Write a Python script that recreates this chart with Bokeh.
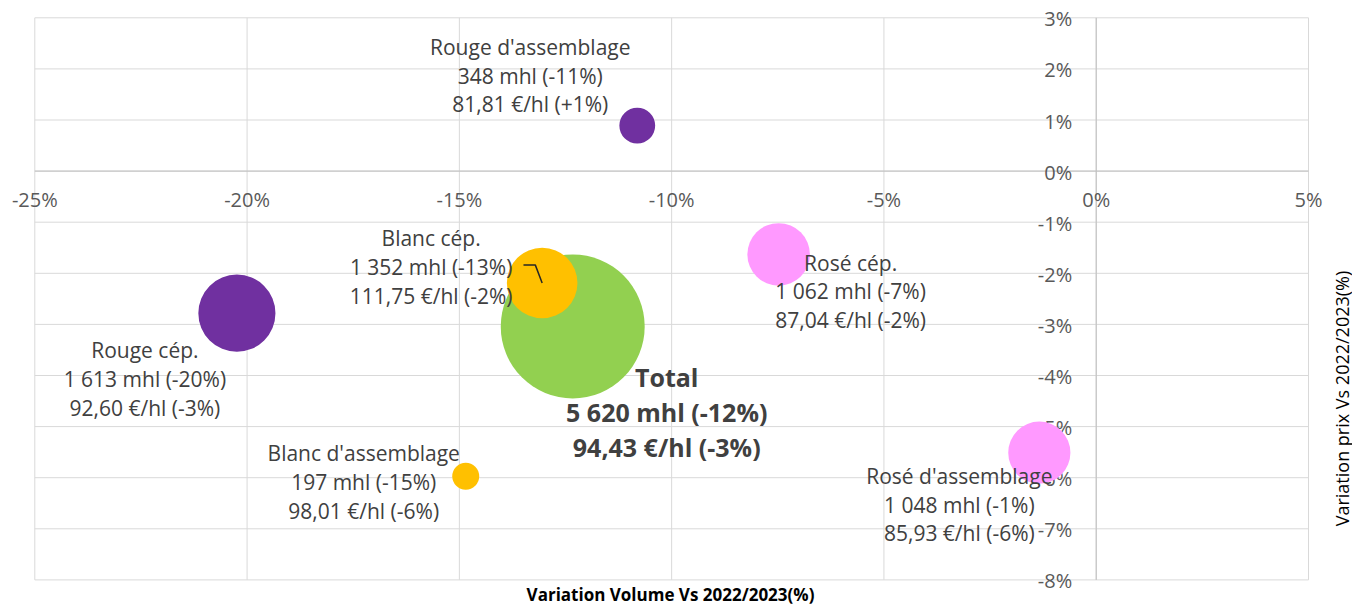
import math
from bokeh.plotting import figure
from bokeh.models import Range1d, ColumnDataSource
from bokeh.core.properties import value
from bokeh.embed import file_html
from bokeh.resources import INLINE

# ---- data ----
names = ["Total", "Rouge cép.", "Rouge d'assemblage", "Blanc cép.",
         "Blanc d'assemblage", "Rosé cép.", "Rosé d'assemblage"]
volume_var = [-12.33, -20.24, -10.81, -13.05, -14.85, -7.48, -1.34]   # % x
price_var = [-3.04, -2.78, 0.89, -2.19, -5.97, -1.63, -5.51]          # % y
volumes = [5620, 1613, 348, 1352, 197, 1062, 1048]                    # mhl
volume_text = ["5 620", "1 613", "348", "1 352", "197", "1 062", "1 048"]
volume_pct = ["-12%", "-20%", "-11%", "-13%", "-15%", "-7%", "-1%"]
prices = ["94,43", "92,60", "81,81", "111,75", "98,01", "87,04", "85,93"]
price_pct = ["-3%", "-3%", "+1%", "-2%", "-6%", "-2%", "-6%"]

x_ticks = [-25, -20, -15, -10, -5, 0, 5]
x_tick_labels = ["-25%", "-20%", "-15%", "-10%", "-5%", "0%", "5%"]
y_ticks = [-8, -7, -6, -5, -4, -3, -2, -1, 0, 1, 2, 3]
y_tick_labels = ["-8%", "-7%", "-6%", "-5%", "-4%", "-3%", "-2%", "-1%", "0%", "1%", "2%", "3%"]

x_title = "Variation Volume Vs 2022/2023(%)"
y_title = "Variation prix Vs 2022/2023(%)"

# ---- styling ----
colors = ["#92D050", "#7030A0", "#7030A0", "#FFC000", "#FFC000", "#FF99FF", "#FF99FF"]
label_dx = [94, -92, -107, -111, -102, 72, -80]   # px offsets of label centres
label_dy = [86, 66, -50, -16, 6, 37, 52]
bubble_scale = 0.96

FONT = "Open Sans"
TXT = "#404040"
TICK = "#595959"
GRID = "#D9D9D9"
AXIS = "#BFBFBF"

W, H = 1352, 607
# plot area (in px) inside the canvas
PL, PR, PT, PB = 34.3, 1308.0, 17.3, 579.4

xmin, xmax = x_ticks[0], x_ticks[-1]
ymin, ymax = y_ticks[0], y_ticks[-1]
kx = (PR - PL) / (xmax - xmin)
ky = (PB - PT) / (ymax - ymin)
x_range = Range1d(xmin - PL / kx, xmax + (W - PR) / kx)
y_range = Range1d(ymin - (H - PB) / ky, ymax + PT / ky)

labels = [f"{n}\n{v} mhl ({vp})\n{pr} €/hl ({pp})"
          for n, v, vp, pr, pp in zip(names, volume_text, volume_pct, prices, price_pct)]
sizes = [2 * bubble_scale * math.sqrt(v) for v in volumes]

p = figure(width=W, height=H, x_range=x_range, y_range=y_range,
           output_backend="svg", toolbar_location=None,
           x_axis_location=None, y_axis_location=None,
           min_border_left=0, min_border_right=0, min_border_top=0, min_border_bottom=0)
p.outline_line_color = None
p.background_fill_color = "white"
p.border_fill_color = "white"
p.xgrid.visible = False
p.ygrid.visible = False

# grid lines of the plot area
p.segment(x0=x_ticks, x1=x_ticks, y0=[ymin] * len(x_ticks), y1=[ymax] * len(x_ticks),
          line_color=GRID, line_width=1)
p.segment(x0=[xmin] * len(y_ticks), x1=[xmax] * len(y_ticks), y0=y_ticks, y1=y_ticks,
          line_color=GRID, line_width=1)
# axes crossing at 0
p.segment(x0=[xmin], x1=[xmax], y0=[0], y1=[0], line_color=AXIS, line_width=1)
p.segment(x0=[0], x1=[0], y0=[ymin], y1=[ymax], line_color=AXIS, line_width=1)

# tick labels
p.text(x=x_ticks, y=[0] * len(x_ticks), text=x_tick_labels, y_offset=28,
       text_font=value(FONT), text_font_size="20px", text_color=TICK,
       text_align="center", text_baseline="middle")
p.text(x=[0] * len(y_ticks), y=y_ticks, text=y_tick_labels, x_offset=-24, y_offset=1,
       text_font=value(FONT), text_font_size="20px", text_color=TICK,
       text_align="right", text_baseline="middle")

# bubbles
src = ColumnDataSource(dict(x=volume_var, y=price_var, size=sizes, color=colors))
p.scatter(x="x", y="y", size="size", fill_color="color", line_color=None, source=src)

# leader line of "Blanc cép." label
bi = names.index("Blanc cép.")
bx, by = volume_var[bi], price_var[bi]
p.line(x=[bx, bx - 0.16, bx - 0.44], y=[by, by + 0.35, by + 0.35],
       line_color="#262626", line_width=1.5)

# data labels
others = ColumnDataSource(dict(x=volume_var[1:], y=price_var[1:], label=labels[1:],
                               dx=label_dx[1:], dy=label_dy[1:]))
p.text(x="x", y="y", text="label", x_offset="dx", y_offset="dy", source=others,
       text_font=value(FONT), text_font_size="21px", text_color=TXT,
       text_align="center", text_baseline="middle", text_line_height=1.03)
tot = ColumnDataSource(dict(x=volume_var[:1], y=price_var[:1], label=labels[:1],
                            dx=label_dx[:1], dy=label_dy[:1]))
p.text(x="x", y="y", text="label", x_offset="dx", y_offset="dy", source=tot,
       text_font=value(FONT), text_font_size="25px", text_font_style="bold",
       text_color=TXT, text_align="center", text_baseline="middle", text_line_height=1.03)

# axis titles
p.text(x=[(670 - PL) / kx + xmin], y=[ymax - (594 - PT) / ky], text=[x_title],
       text_font=value(FONT), text_font_size="17px", text_font_style="bold",
       text_color="black", text_align="center", text_baseline="middle")
p.text(x=[(1341 - PL) / kx + xmin], y=[ymax - (398 - PT) / ky], text=[y_title],
       text_font=value(FONT), text_font_size="18px", text_color="black",
       text_align="center", text_baseline="middle", angle=math.pi / 2)

open("out.html", "w").write(file_html(p, INLINE))
